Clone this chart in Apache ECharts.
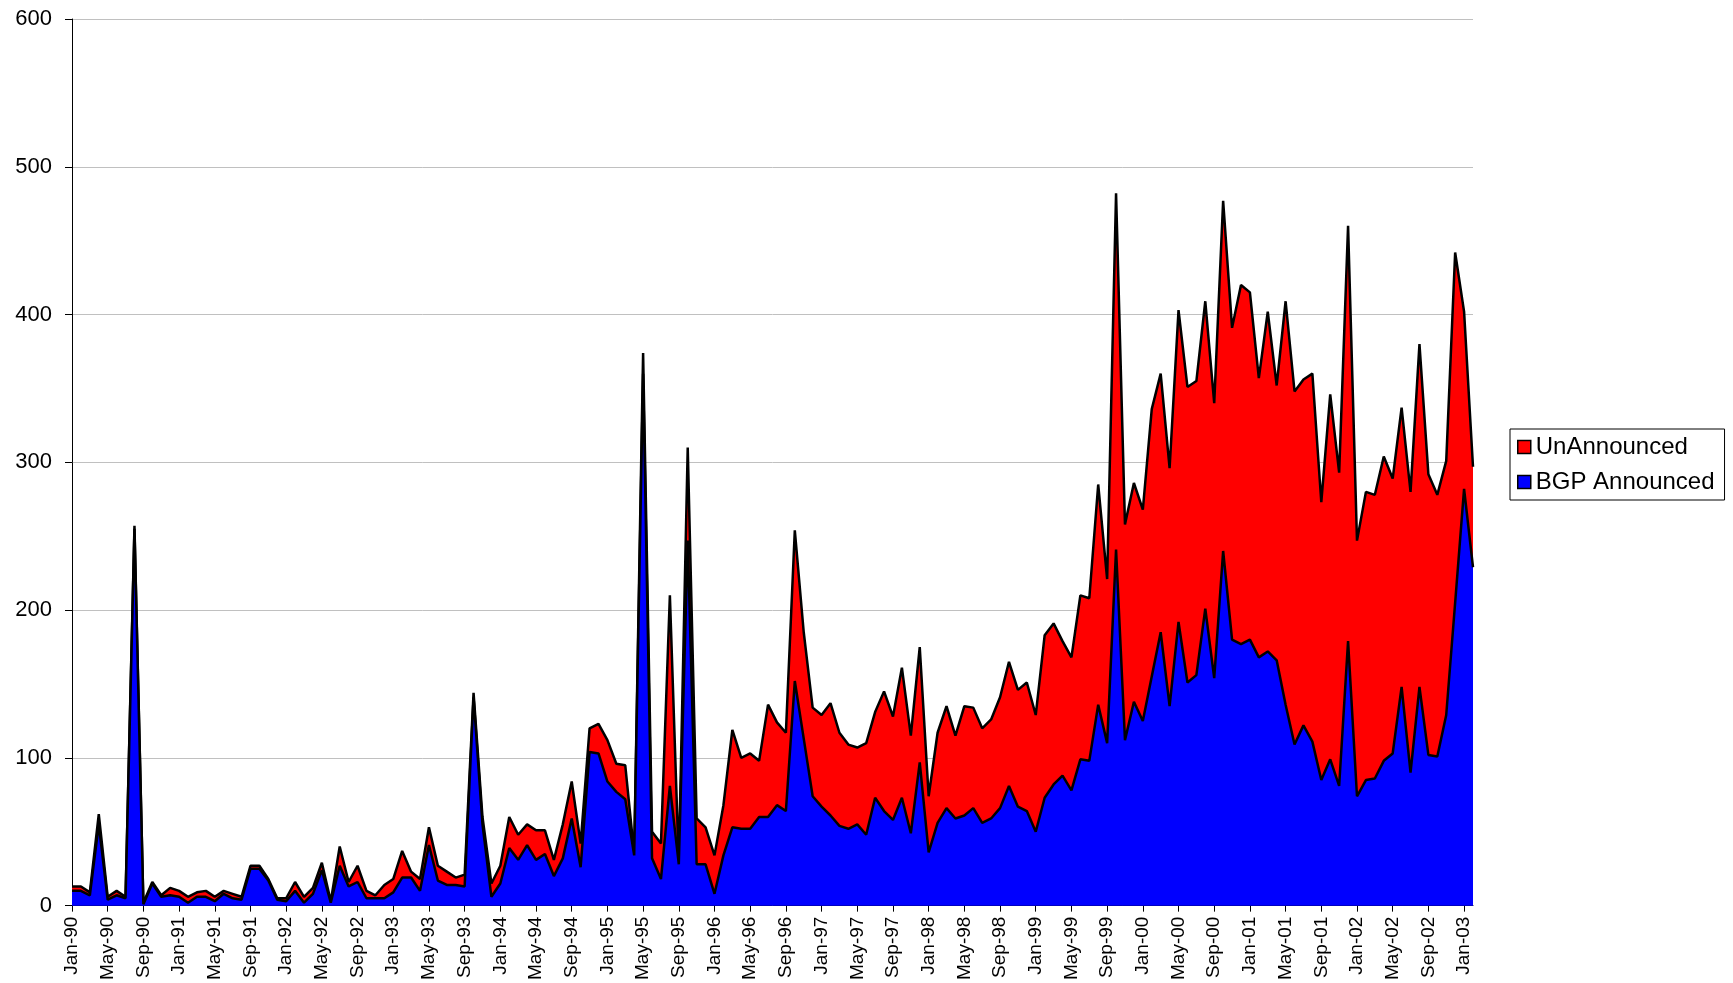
<!doctype html>
<html>
    <head>
        <meta charset="utf-8">
        <title>BGP Announced / UnAnnounced</title>
        <style>
            html, body { margin: 0; padding: 0; background: #fff; }
            #main { width: 1733px; height: 983px; }
        </style>
    </head>
    <body>
        <div id="main"></div>
        <script src="https://cdn.jsdelivr.net/npm/echarts@6/dist/echarts.min.js"></script>
        <script>
            // month labels, Jan-90 .. Feb-03
            var monthNames = ['Jan', 'Feb', 'Mar', 'Apr', 'May', 'Jun', 'Jul', 'Aug', 'Sep', 'Oct', 'Nov', 'Dec'];
            var years = ['90', '91', '92', '93', '94', '95', '96', '97', '98', '99', '00', '01', '02', '03'];
            var lastYearMonths = 2;

            var categories = [];
            years.forEach(function (y, yi) {
                var n = yi === years.length - 1 ? lastYearMonths : 12;
                for (var m = 0; m < n; m++) {
                    categories.push(monthNames[m] + '-' + y);
                }
            });

            // one row per year
            var bgpAnnounced = [
                10, 10, 7, 55, 4, 7, 5, 255, 1, 15, 6, 7,
                6, 2, 6, 6, 3, 8, 5, 4, 25, 25, 17, 4,
                3, 10, 2, 8, 24, 2, 27, 13, 16, 5, 5, 5,
                9, 19, 19, 10, 41, 17, 14, 14, 13, 141, 55, 6,
                15, 39, 31, 41, 31, 35, 20, 32, 59, 26, 104, 103,
                84, 77, 72, 34, 360, 32, 18, 81, 28, 247, 28, 28,
                8, 34, 53, 52, 52, 60, 60, 68, 64, 152, 113, 74,
                67, 61, 54, 52, 55, 48, 73, 64, 58, 73, 49, 97,
                36, 56, 66, 59, 61, 66, 56, 59, 66, 81, 67, 64,
                50, 73, 82, 88, 78, 99, 98, 136, 110, 241, 112, 138,
                125, 155, 185, 135, 192, 151, 156, 201, 154, 240, 180, 177,
                180, 168, 172, 166, 136, 109, 122, 111, 85, 99, 81, 179,
                74, 85, 86, 98, 103, 148, 90, 148, 102, 101, 129, 205,
                282, 229
            ];

            var unAnnounced = [
                3, 3, 2, 7, 2, 3, 1, 2, 1, 1, 1, 5,
                4, 4, 3, 4, 3, 2, 3, 2, 2, 2, 1, 1,
                2, 6, 4, 4, 5, 1, 13, 3, 11, 5, 2, 9,
                9, 18, 4, 8, 12, 10, 9, 5, 8, 3, 5, 9,
                12, 21, 17, 14, 20, 16, 11, 23, 25, 16, 16, 20,
                28, 19, 23, 1, 14, 18, 24, 129, 1, 63, 31, 25,
                26, 34, 66, 48, 51, 38, 76, 56, 53, 102, 72, 60,
                62, 76, 63, 57, 52, 62, 58, 81, 70, 88, 66, 78,
                38, 61, 69, 56, 74, 68, 64, 67, 75, 84, 79, 87,
                79, 110, 109, 91, 90, 111, 110, 149, 111, 241, 146, 148,
                143, 181, 175, 161, 211, 200, 199, 208, 186, 237, 211, 243,
                235, 189, 230, 186, 273, 239, 234, 249, 188, 247, 212, 281,
                173, 195, 192, 206, 186, 189, 190, 232, 190, 177, 172, 237,
                120, 68
            ];

            var legendNames = ['UnAnnounced', 'BGP Announced'];

            var chart = echarts.init(document.getElementById('main'), null, {
                renderer: 'canvas',
                devicePixelRatio: 1
            });

            var font = 'Liberation Sans, Arial, sans-serif';

            chart.setOption({
                animation: false,
                backgroundColor: '#fff',
                textStyle: { fontFamily: font },
                grid: {
                    left: 72,
                    right: 260,
                    top: 19,
                    bottom: 76,
                    containLabel: false
                },
                legend: {
                    data: legendNames,
                    orient: 'vertical',
                    left: 1510,
                    top: 429,
                    padding: [6, 10, 6, 7],
                    itemGap: 11,
                    itemWidth: 13,
                    itemHeight: 13,
                    borderColor: '#000',
                    borderWidth: 1,
                    icon: 'rect',
                    itemStyle: { borderColor: '#000', borderWidth: 1.5 },
                    textStyle: { fontSize: 24, color: '#000', fontFamily: font }
                },
                xAxis: {
                    type: 'category',
                    data: categories,
                    boundaryGap: false,
                    axisLine: { lineStyle: { color: '#000', width: 1 } },
                    axisTick: { interval: 3, length: 6, lineStyle: { color: '#000' } },
                    axisLabel: {
                        interval: 3,
                        rotate: 90,
                        margin: 11,
                        fontSize: 19,
                        color: '#000',
                        fontFamily: font
                    },
                    splitLine: { show: false }
                },
                yAxis: {
                    type: 'value',
                    min: 0,
                    max: 600,
                    interval: 100,
                    axisLine: { show: true, lineStyle: { color: '#000', width: 1 } },
                    axisTick: { show: true, length: 7, lineStyle: { color: '#000' } },
                    axisLabel: { margin: 20, fontSize: 22, color: '#000', fontFamily: font },
                    splitLine: { lineStyle: { color: '#c0c0c0', width: 1 } }
                },
                series: [
                    {
                        name: 'BGP Announced',
                        type: 'line',
                        stack: 'total',
                        data: bgpAnnounced,
                        symbol: 'none',
                        z: 3,
                        itemStyle: { color: '#0000ff' },
                        lineStyle: { color: '#000', width: 2.5 },
                        areaStyle: { color: '#0000ff', opacity: 1 }
                    },
                    {
                        name: 'UnAnnounced',
                        type: 'line',
                        stack: 'total',
                        data: unAnnounced,
                        symbol: 'none',
                        z: 2,
                        itemStyle: { color: '#ff0000' },
                        lineStyle: { color: '#000', width: 2.5 },
                        areaStyle: { color: '#ff0000', opacity: 1 }
                    }
                ]
            });

            window.onresize = chart.resize;
        </script>
    </body>
</html>
